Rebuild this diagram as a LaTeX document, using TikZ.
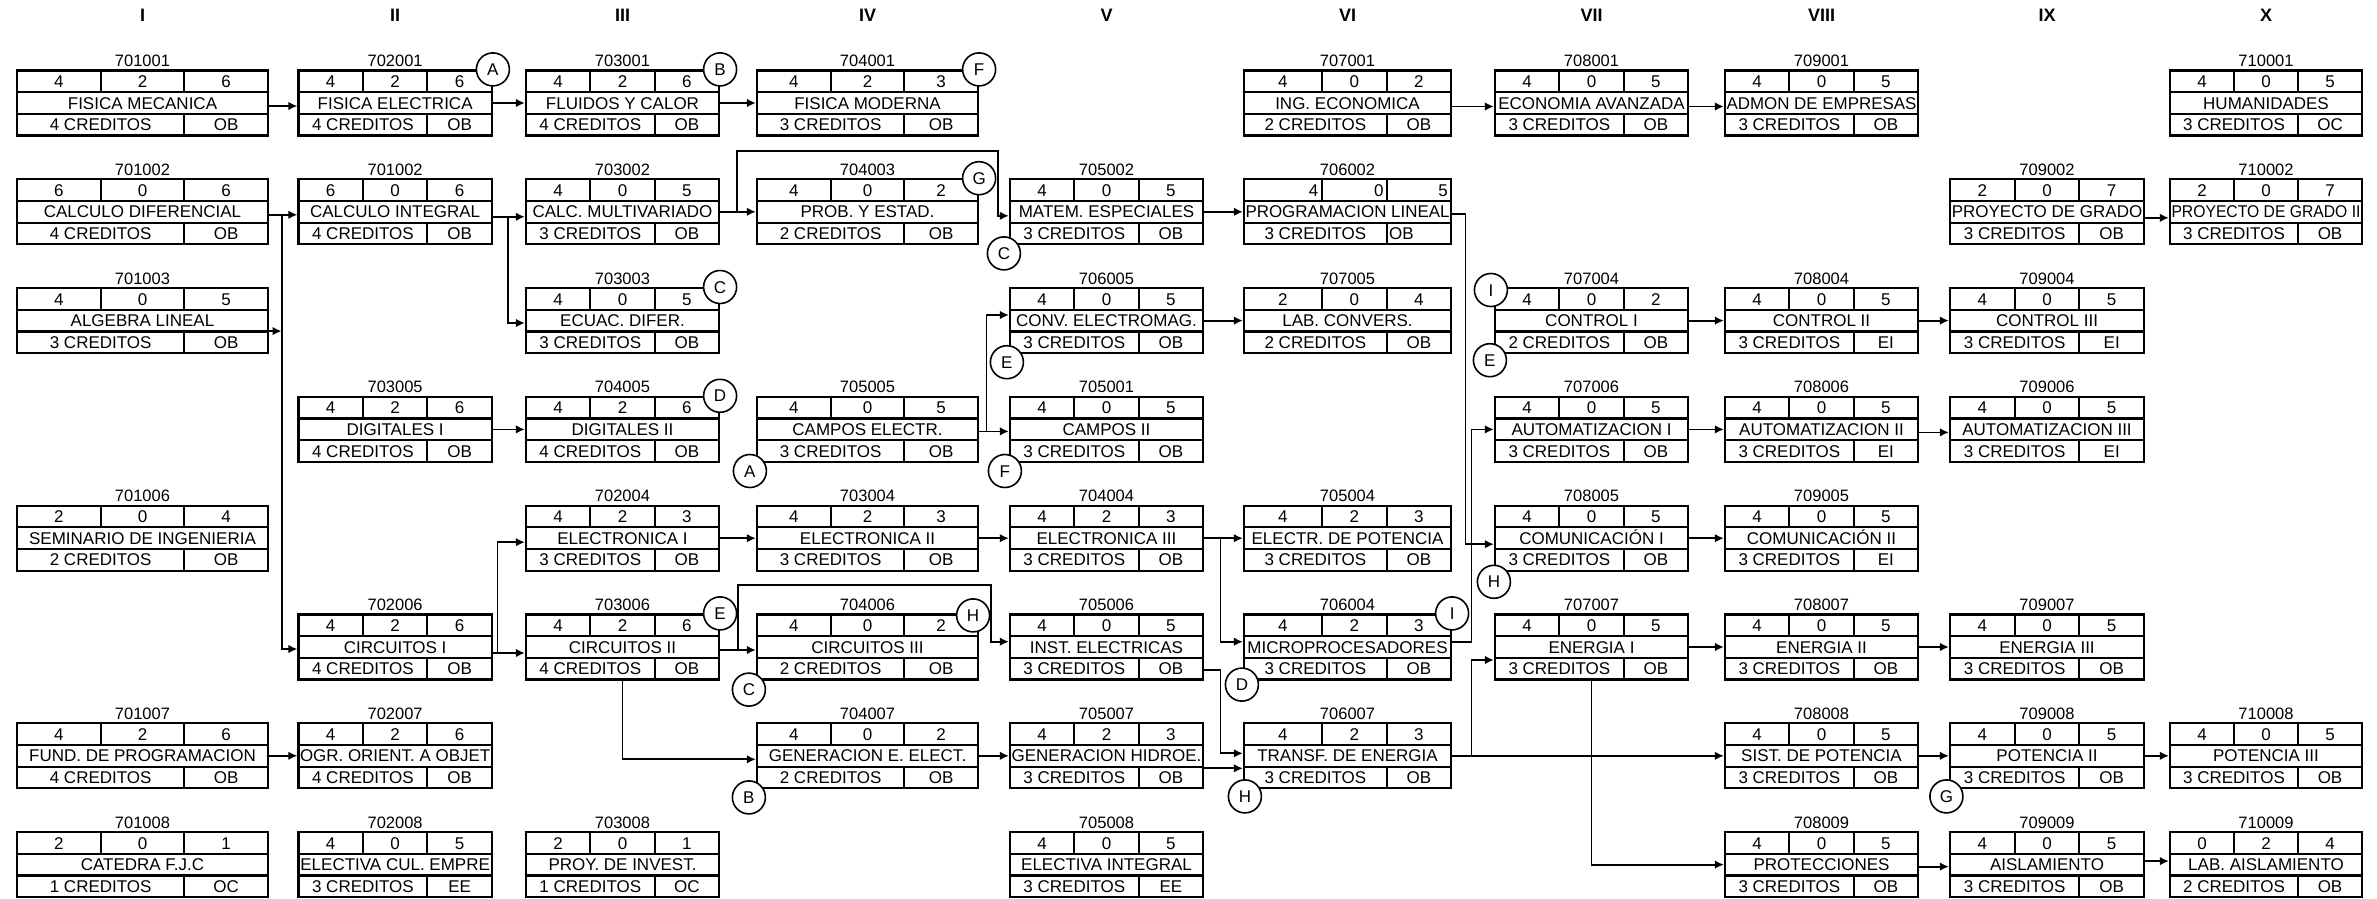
\documentclass[tikz,border=0pt]{standalone}
\usepackage{fontspec}
\setmainfont{Liberation Sans}
\usepackage{graphicx}
\usetikzlibrary{arrows.meta,calc}

\newcommand\defcol[5]{%
  \expandafter\def\csname colx#1\endcsname{#2}%
  \expandafter\def\csname colw#1\endcsname{#3}%
  \expandafter\def\csname cola#1\endcsname{#4}%
  \expandafter\def\csname colb#1\endcsname{#5}}
\defcol{I}{17}{251}{0.3333}{0.6667}
\defcol{II}{298.5}{193.3}{0.3333}{0.6667}
\defcol{III}{526}{193}{0.3333}{0.6667}
\defcol{IV}{757}{221}{0.3333}{0.6667}
\defcol{V}{1010}{193}{0.3333}{0.6667}
\defcol{VI}{1244}{207}{0.375}{0.69}
\defcol{VII}{1495}{193}{0.3333}{0.6667}
\defcol{VIII}{1725}{193}{0.3333}{0.6667}
\defcol{IX}{1950}{194}{0.3333}{0.6667}
\defcol{X}{2170}{192}{0.3333}{0.6667}

\newcommand\fittext[2]{%
  \setbox0\hbox{#2}%
  \pgfmathsetmacro\fitw{\the\wd0}%
  \pgfmathsetmacro\fitmax{#1}%
  \pgfmathparse{\fitw>\fitmax ? \fitmax/\fitw : 1}%
  \scalebox{\pgfmathresult}[1]{#2}}

\newcommand\cnums[4]{%
  \node[txt,numA] (#1-a) at ({\cx+\ca*\cw/2},{\ct+10.83}) {#2};
  \node[txt,numB] (#1-b) at ({\cx+(\ca+\cb)*\cw/2},{\ct+10.83}) {#3};
  \node[txt,numC] (#1-c) at ({\cx+(1+\cb)*\cw/2},{\ct+10.83}) {#4};}

\newcommand\course[8]{%
  \edef\cx{\csname colx#2\endcsname}%
  \edef\cw{\csname colw#2\endcsname}%
  \edef\ca{\csname cola#2\endcsname}%
  \edef\cb{\csname colb#2\endcsname}%
  \pgfmathsetmacro\ct{70.5+108.8*(#3-1)}%
  \node[cbox,minimum width=\cw pt] (#1) at ({\cx+\cw/2},{\ct+32.5}) {};
  \draw[boxl] ({\cx},{\ct+21.67}) -- ++(\cw,0)
              ({\cx},{\ct+43.33}) -- ++(\cw,0)
              ({\cx+\ca*\cw},{\ct}) -- ++(0,21.67)
              ({\cx+\cb*\cw},{\ct}) -- ++(0,21.67)
              ({\cx+\cb*\cw},{\ct+43.33}) -- ++(0,21.67);
  \node[codelab] (#1-code) at ({\cx+\cw/2},{\ct-10}) {#4};
  \cnums{#1}#5%
  \begin{scope}
    \clip ({\cx},{\ct+21.67}) rectangle ++(\cw,21.67);
    \node[txt] (#1-title) at ({\cx+\cw/2},{\ct+32.5}) {\fittext{\cw-3}{#6}};
  \end{scope}
  \node[txt] (#1-cred) at ({\cx+\cb*\cw/2},{\ct+54.17}) {#7 CREDITOS};
  \node[txt,typ] (#1-type) at ({\cx+(1+\cb)*\cw/2},{\ct+54.17}) {#8};
}

\newcommand\harrow[3][0]{\draw[conn] ($(#2.east)+(0,#1)$) -- ($(#3.west)+(0,#1)$);}

\tikzset{
  cbox/.style={draw,line width=2.2pt,rectangle,minimum height=65pt,inner sep=0pt},
  boxl/.style={line width=2.2pt},
  txt/.style={inner sep=0pt,text height=12.2pt,text depth=0pt,font=\fontsize{17}{17}\selectfont},
  codelab/.style={inner sep=0pt,text height=11.8pt,text depth=0pt,font=\fontsize{16.5}{16.5}\selectfont},
  hdr/.style={inner sep=0pt,text height=13pt,text depth=0pt,font=\fontsize{18}{18}\selectfont\bfseries},
  conn/.style={line width=1.8pt,-{Latex[length=9pt,width=8.5pt]}},
  lettercirc/.style={circle,draw,line width=1.6pt,fill=white,minimum size=33pt,inner sep=0pt,
    text height=12.2pt,text depth=0pt,font=\fontsize{17}{17}\selectfont},
  numA/.style={},numB/.style={},numC/.style={},typ/.style={}
}

\begin{document}
\begin{tikzpicture}[x=1pt,y=-1pt]
\useasboundingbox (0,0) rectangle (2377,898);
\fill[white] (0,0) rectangle (2377,898);

% semester headers
\node[hdr] (h1) at (142.5,15) {I};
\node[hdr] (h2) at (395.2,15) {II};
\node[hdr] (h3) at (622.5,15) {III};
\node[hdr] (h4) at (867.5,15) {IV};
\node[hdr] (h5) at (1106.5,15) {V};
\node[hdr] (h6) at (1347.5,15) {VI};
\node[hdr] (h7) at (1591.5,15) {VII};
\node[hdr] (h8) at (1821.5,15) {VIII};
\node[hdr] (h9) at (2047,15) {IX};
\node[hdr] (h10) at (2266,15) {X};

% row 1
\course{fm}{I}{1}{701001}{426}{FISICA MECANICA}{4}{OB}
\course{fe}{II}{1}{702001}{426}{FISICA ELECTRICA}{4}{OB}
\course{fc}{III}{1}{703001}{426}{FLUIDOS Y CALOR}{4}{OB}
\course{fmod}{IV}{1}{704001}{423}{FISICA MODERNA}{3}{OB}
\course{inge}{VI}{1}{707001}{402}{ING. ECONOMICA}{2}{OB}
\course{ecav}{VII}{1}{708001}{405}{ECONOMIA AVANZADA}{3}{OB}
\course{admon}{VIII}{1}{709001}{405}{ADMON DE EMPRESAS}{3}{OB}
\course{hum}{X}{1}{710001}{405}{HUMANIDADES}{3}{OC}
% row 2
\course{cdif}{I}{2}{701002}{606}{CALCULO DIFERENCIAL}{4}{OB}
\course{cint}{II}{2}{701002}{606}{CALCULO INTEGRAL}{4}{OB}
\course{cmul}{III}{2}{703002}{405}{CALC. MULTIVARIADO}{3}{OB}
\course{prob}{IV}{2}{704003}{402}{PROB. Y ESTAD.}{2}{OB}
\course{matem}{V}{2}{705002}{405}{MATEM. ESPECIALES}{3}{OB}
\begin{scope}[numA/.style={anchor=east,xshift={\ca*\cw/2-3}},
  numB/.style={anchor=east,xshift={(\cb-\ca)*\cw/2-3}},
  numC/.style={anchor=east,xshift={(1-\cb)*\cw/2-3}},
  typ/.style={anchor=west,xshift={-(1-\cb)*\cw/2+2}}]
\course{plin}{VI}{2}{706002}{405}{PROGRAMACION LINEAL}{3}{OB}
\end{scope}
\course{pg1}{IX}{2}{709002}{207}{PROYECTO DE GRADO}{3}{OB}
\course{pg2}{X}{2}{710002}{207}{PROYECTO DE GRADO II}{3}{OB}
% row 3
\course{alg}{I}{3}{701003}{405}{ALGEBRA LINEAL}{3}{OB}
\course{ecua}{III}{3}{703003}{405}{ECUAC. DIFER.}{3}{OB}
\course{conv}{V}{3}{706005}{405}{CONV. ELECTROMAG.}{3}{OB}
\course{labc}{VI}{3}{707005}{204}{LAB. CONVERS.}{2}{OB}
\course{ctl1}{VII}{3}{707004}{402}{CONTROL I}{2}{OB}
\course{ctl2}{VIII}{3}{708004}{405}{CONTROL II}{3}{EI}
\course{ctl3}{IX}{3}{709004}{405}{CONTROL III}{3}{EI}
% row 4
\course{dig1}{II}{4}{703005}{426}{DIGITALES I}{4}{OB}
\course{dig2}{III}{4}{704005}{426}{DIGITALES II}{4}{OB}
\course{camp}{IV}{4}{705005}{405}{CAMPOS ELECTR.}{3}{OB}
\course{camp2}{V}{4}{705001}{405}{CAMPOS II}{3}{OB}
\course{aut1}{VII}{4}{707006}{405}{AUTOMATIZACION I}{3}{OB}
\course{aut2}{VIII}{4}{708006}{405}{AUTOMATIZACION II}{3}{EI}
\course{aut3}{IX}{4}{709006}{405}{AUTOMATIZACION III}{3}{EI}
% row 5
\course{sem}{I}{5}{701006}{204}{SEMINARIO DE INGENIERIA}{2}{OB}
\course{el1}{III}{5}{702004}{423}{ELECTRONICA I}{3}{OB}
\course{el2}{IV}{5}{703004}{423}{ELECTRONICA II}{3}{OB}
\course{el3}{V}{5}{704004}{423}{ELECTRONICA III}{3}{OB}
\course{elp}{VI}{5}{705004}{423}{ELECTR. DE POTENCIA}{3}{OB}
\course{com1}{VII}{5}{708005}{405}{COMUNICACIÓN I}{3}{OB}
\course{com2}{VIII}{5}{709005}{405}{COMUNICACIÓN II}{3}{EI}
% row 6
\course{cir1}{II}{6}{702006}{426}{CIRCUITOS I}{4}{OB}
\course{cir2}{III}{6}{703006}{426}{CIRCUITOS II}{4}{OB}
\course{cir3}{IV}{6}{704006}{402}{CIRCUITOS III}{2}{OB}
\course{inst}{V}{6}{705006}{405}{INST. ELECTRICAS}{3}{OB}
\course{micro}{VI}{6}{706004}{423}{MICROPROCESADORES}{3}{OB}
\course{en1}{VII}{6}{707007}{405}{ENERGIA I}{3}{OB}
\course{en2}{VIII}{6}{708007}{405}{ENERGIA II}{3}{OB}
\course{en3}{IX}{6}{709007}{405}{ENERGIA III}{3}{OB}
% row 7
\course{fund}{I}{7}{701007}{426}{FUND. DE PROGRAMACION}{4}{OB}
\course{poo}{II}{7}{702007}{426}{OGR. ORIENT. A OBJET}{4}{OB}
\course{gen}{IV}{7}{704007}{402}{GENERACION E. ELECT.}{2}{OB}
\course{genh}{V}{7}{705007}{423}{GENERACION HIDROE.}{3}{OB}
\course{trans}{VI}{7}{706007}{423}{TRANSF. DE ENERGIA}{3}{OB}
\course{sist}{VIII}{7}{708008}{405}{SIST. DE POTENCIA}{3}{OB}
\course{pot2}{IX}{7}{709008}{405}{POTENCIA II}{3}{OB}
\course{pot3}{X}{7}{710008}{405}{POTENCIA III}{3}{OB}
% row 8
\course{cat}{I}{8}{701008}{201}{CATEDRA F.J.C}{1}{OC}
\course{elcul}{II}{8}{702008}{405}{ELECTIVA CUL. EMPRE}{3}{EE}
\course{proy}{III}{8}{703008}{201}{PROY. DE INVEST.}{1}{OC}
\course{elint}{V}{8}{705008}{405}{ELECTIVA INTEGRAL}{3}{EE}
\course{prot}{VIII}{8}{708009}{405}{PROTECCIONES}{3}{OB}
\course{aisl}{IX}{8}{709009}{405}{AISLAMIENTO}{3}{OB}
\course{labais}{X}{8}{710009}{024}{LAB. AISLAMIENTO}{2}{OB}

% straight connectors
\harrow[3]{fm}{fe}
\harrow{fe}{fc}
\harrow{fc}{fmod}
\harrow[3.5]{inge}{ecav}
\harrow[3.5]{ecav}{admon}
\harrow[6]{pg1}{pg2}
\harrow[3]{cdif}{cint}
\harrow[5]{cint}{cmul}
\harrow{cmul}{prob}
\harrow{matem}{plin}
\harrow{conv}{labc}
\harrow{dig1}{dig2}
\harrow[2]{camp}{camp2}
\harrow{ctl1}{ctl2}
\harrow{ctl2}{ctl3}
\harrow{aut1}{aut2}
\harrow[3]{aut2}{aut3}
\harrow{el1}{el2}
\harrow{el2}{el3}
\harrow{el3}{elp}
\harrow{com1}{com2}
\harrow[6]{cir1}{cir2}
\harrow[3]{cir2}{cir3}
\harrow{en1}{en2}
\harrow{en2}{en3}
\harrow{fund}{poo}
\harrow{gen}{genh}
\harrow{trans}{sist}
\harrow{sist}{pot2}
\harrow{pot2}{pot3}
\harrow[2]{prot}{aisl}
\harrow[-3.5]{aisl}{labais}
\harrow[12.5]{genh}{trans}

% bus lines and routed connectors
\coordinate (b1) at (281.6,0);
\coordinate (b2) at (507.8,0);
\coordinate (b5) at (1465.5,0);
\coordinate (b6) at (1471.5,0);
\coordinate (b8) at (986.5,0);
\coordinate (b9) at (1220.5,0);
\coordinate (b10) at (497.5,0);
\coordinate (t1) at (737,151);
\coordinate (t2) at (998,151);
\coordinate (t3) at (738,585);
\coordinate (t4) at (991,585);

\coordinate (q1) at ($(cdif.east)+(0,3)$);
\draw[conn] (q1 -| b1) |- ($(cir1.west)+(0,2)$);
\coordinate (q2) at ($(alg.east)+(0,10.5)$);
\draw[conn] (q2) -- (q2 -| b1);
\coordinate (q3) at ($(cint.east)+(0,5)$);
\draw[conn] (q3 -| b2) |- ($(ecua.west)+(0,2.4)$);
\draw[conn] (cmul.east -| t1) -- (t1) -- (t2) |- ($(matem.west)+(0,4)$);
\coordinate (q4) at ($(plin.east)+(0,2)$);
\draw[conn] (q4) -- (q4 -| b5) |- ($(com1.west)+(0,6)$);
\coordinate (q5) at ($(micro.east)+(0,-5.3)$);
\draw[conn] (q5) -- (q5 -| b6) |- (aut1.west);
\draw[conn] (trans.east -| b6) |- ($(en1.west)+(0,13)$);
\draw[conn] (en1.south) |- (prot.west);
\coordinate (q6) at ($(camp.east)+(0,2)$);
\draw[conn] (q6 -| b8) |- ($(conv.west)+(0,-5.6)$);
\draw[conn] (el3.east -| b9) |- ($(micro.west)+(0,-5.3)$);
\coordinate (q7) at ($(inst.east)+(0,23)$);
\draw[conn] (q7) -- (q7 -| b9) |- ($(trans.west)+(0,-2.5)$);
\coordinate (q8) at ($(cir1.east)+(0,6)$);
\draw[conn] (q8 -| b10) |- ($(el1.west)+(0,4)$);
\coordinate (q9) at ($(cir2.east)+(0,3)$);
\draw[conn] (q9 -| t3) -- (t3) -- (t4) |- ($(inst.west)+(0,-5.3)$);
\draw[conn] (cir2.south) |- ($(gen.west)+(0,3.5)$);

% letter markers
\node[lettercirc] (kA1) at (fe.north east) {A};
\node[lettercirc] (kB1) at (fc.north east) {B};
\node[lettercirc] (kF1) at (fmod.north east) {F};
\node[lettercirc] (kG1) at (prob.north east) {G};
\node[lettercirc] (kC1) at ($(matem.south west)+(-5,8)$) {C};
\node[lettercirc] (kC2) at (ecua.north east) {C};
\node[lettercirc] (kE1) at ($(conv.south west)+(-2,8)$) {E};
\node[lettercirc] (kI1) at ($(ctl1.north west)+(-3,3)$) {I};
\node[lettercirc] (kE2) at ($(ctl1.south west)+(-4,6)$) {E};
\node[lettercirc] (kD1) at (dig2.north east) {D};
\node[lettercirc] (kA2) at ($(camp.south west)+(-6,8)$) {A};
\node[lettercirc] (kF2) at ($(camp2.south west)+(-4,8)$) {F};
\node[lettercirc] (kH1) at ($(com1.south west)+(0,10)$) {H};
\node[lettercirc] (kE3) at (cir2.north east) {E};
\node[lettercirc] (kH2) at ($(cir3.north east)+(-6,2)$) {H};
\node[lettercirc] (kC3) at ($(cir3.south west)+(-7,9)$) {C};
\node[lettercirc] (kI2) at (micro.north east) {I};
\node[lettercirc] (kD2) at ($(micro.south west)+(-1,4)$) {D};
\node[lettercirc] (kB2) at ($(gen.south west)+(-7,8)$) {B};
\node[lettercirc] (kH3) at ($(trans.south west)+(2,7)$) {H};
\node[lettercirc] (kG2) at ($(pot2.south west)+(-2.5,7)$) {G};
\end{tikzpicture}
\end{document}
